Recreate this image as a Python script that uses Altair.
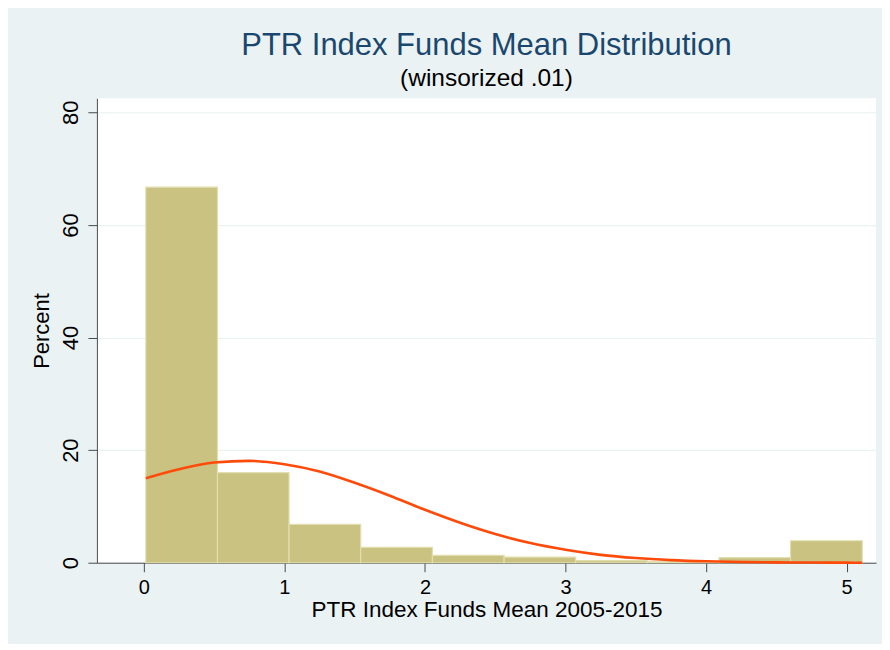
import altair as alt
import pandas as pd

# Histogram bins (x range) and heights (percent)
bin_start = [0.014, 0.524, 1.033, 1.543, 2.053, 2.563, 3.072, 3.582, 4.092, 4.601]
bin_end = [0.524, 1.033, 1.543, 2.053, 2.563, 3.072, 3.582, 4.092, 4.601, 5.111]
percent = [66.7, 16.0, 6.8, 2.73, 1.31, 1.0, 0.36, 0.2, 0.9, 3.9]

# Normal density overlay
curve_x = [0.014, 0.25, 0.5, 0.75, 1.0, 1.25, 1.5, 1.75, 2.0, 2.25, 2.5, 2.75,
           3.0, 3.25, 3.5, 3.75, 4.0, 4.25, 4.5, 4.75, 5.0, 5.111]
curve_y = [15.0, 16.6, 17.8, 18.1, 17.5, 16.2, 14.2, 11.9, 9.4, 7.1, 5.1, 3.5,
           2.3, 1.4, 0.83, 0.47, 0.25, 0.13, 0.06, 0.03, 0.01, 0.005]

x_ticks = [0, 1, 2, 3, 4, 5]
y_ticks = [0, 20, 40, 60, 80]

bars_df = pd.DataFrame({"x0": bin_start, "x1": bin_end, "pct": percent})
curve_df = pd.DataFrame({"x": curve_x, "y": curve_y})

FONT = "Liberation Sans"
BG = "#EAF2F3"
AXIS = "#4a4a4a"

x_scale = alt.Scale(domain=[-0.334, 5.209], nice=False, zero=False)
y_scale = alt.Scale(domain=[0, 82.5], nice=False)

x_axis = alt.Axis(values=x_ticks, title="PTR Index Funds Mean 2005-2015",
                  labelFontSize=20, titleFontSize=22.5, labelFont=FONT, titleFont=FONT,
                  titleFontWeight="normal", labelColor="black", titleColor="black",
                  tickSize=9, tickColor=AXIS, domainColor=AXIS, labelPadding=6,
                  titlePadding=1, grid=False, format="d")
y_axis = alt.Axis(values=y_ticks, title="Percent", labelAngle=270,
                  labelAlign="center", labelBaseline="bottom",
                  labelFontSize=22, titleFontSize=22, labelFont=FONT, titleFont=FONT,
                  titleFontWeight="normal", labelColor="black", titleColor="black",
                  tickSize=9, tickColor=AXIS, domainColor=AXIS, labelPadding=5,
                  titlePadding=6, grid=True, gridColor=BG, gridWidth=1.2, format="d")

bars = alt.Chart(bars_df).mark_rect(color="#C9C281", stroke="#E3DEB0", strokeWidth=1.2).encode(
    x=alt.X("x0:Q", scale=x_scale, axis=x_axis),
    x2="x1:Q",
    y=alt.Y("pct:Q", scale=y_scale, axis=y_axis),
    y2=alt.datum(0),
)

line = alt.Chart(curve_df).mark_line(color="#FF4A0A", strokeWidth=2.6, interpolate="monotone").encode(
    x=alt.X("x:Q", scale=x_scale),
    y=alt.Y("y:Q", scale=y_scale),
)

chart = alt.layer(bars, line).properties(
    width=780,
    height=465,
    background=BG,
    padding={"left": 89, "top": 90, "right": 6, "bottom": 81},
    autosize=alt.AutoSizeParams(type="none"),
    title=alt.TitleParams(
        text="PTR Index Funds Mean Distribution",
        subtitle="(winsorized .01)",
        font=FONT, fontSize=31, fontWeight="normal", color="#1A476F",
        subtitleFont=FONT, subtitleFontSize=24.5, subtitleColor="black",
        subtitlePadding=5, offset=7, anchor="middle", frame="group",
    ),
).configure_view(fill="white", stroke=None)

chart.save("out.html", embed_options={"renderer": "svg", "actions": False})
